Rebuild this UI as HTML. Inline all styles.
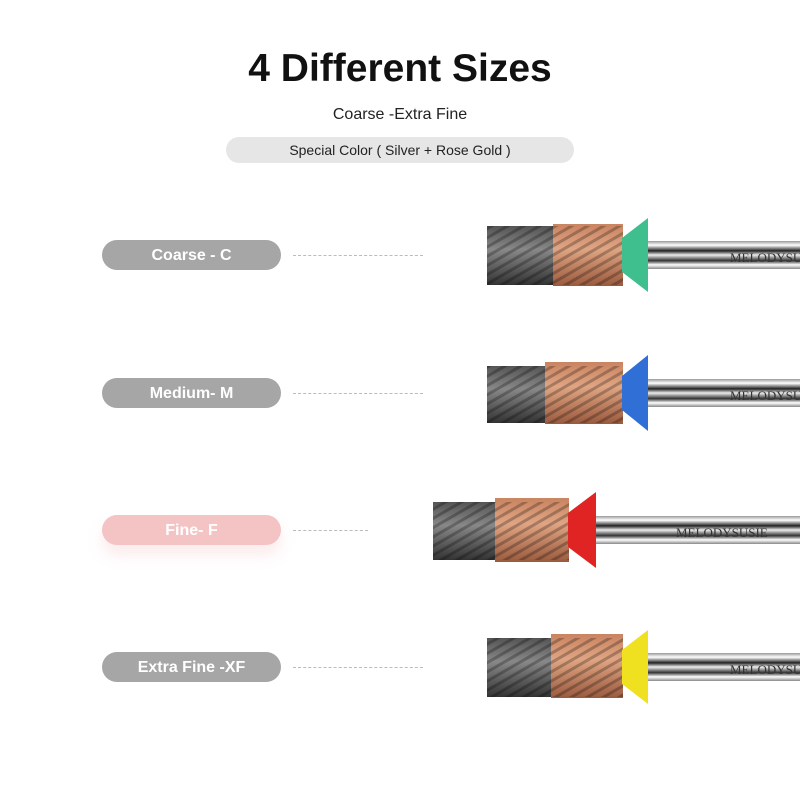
<!DOCTYPE html>
<html><head><style>
body{margin:0;width:800px;height:800px;background:#fff;font-family:"Liberation Sans",sans-serif;position:relative;overflow:hidden}
.t{position:absolute;left:0;width:800px;text-align:center}
.pill{position:absolute;left:102px;width:179px;height:30px;border-radius:15px;background:#a6a6a6;color:#fff;font-weight:bold;font-size:16px;line-height:32px;text-align:center}
.dash{position:absolute;height:0;border-top:1px dashed #bbb}
</style></head><body>
<div class="t" style="top:47px;font-size:39px;font-weight:bold;color:#111">4 Different Sizes</div>
<div class="t" style="top:106px;font-size:16px;color:#222">Coarse -Extra Fine</div>
<div style="position:absolute;left:226px;top:137px;width:348px;height:26px;border-radius:13px;background:#e6e6e6;text-align:center;line-height:26px;font-size:14px;color:#222">Special Color ( Silver + Rose Gold )</div>

<div class="pill" style="top:240px">Coarse - C</div>
<div class="pill" style="top:378px">Medium- M</div>
<div class="pill" style="top:515px;background:#f4c4c5;box-shadow:0 10px 14px rgba(240,180,180,.25)">Fine- F</div>
<div class="pill" style="top:652px">Extra Fine -XF</div>
<div class="dash" style="left:293px;width:130px;top:255px"></div>
<div class="dash" style="left:293px;width:130px;top:393px"></div>
<div class="dash" style="left:293px;width:75px;top:530px"></div>
<div class="dash" style="left:293px;width:130px;top:667px"></div>

<svg width="800" height="800" style="position:absolute;left:0;top:0">
<defs>
<linearGradient id="sh" x1="0" y1="0" x2="0" y2="1">
<stop offset="0" stop-color="#999"/><stop offset=".15" stop-color="#fff"/><stop offset=".35" stop-color="#222"/><stop offset=".5" stop-color="#eee"/><stop offset=".7" stop-color="#333"/><stop offset=".85" stop-color="#fff"/><stop offset="1" stop-color="#888"/></linearGradient>
<linearGradient id="dk" x1="0" y1="0" x2="0" y2="1"><stop offset="0" stop-color="#555"/><stop offset=".4" stop-color="#888"/><stop offset="1" stop-color="#333"/></linearGradient>
<linearGradient id="cu" x1="0" y1="0" x2="0" y2="1"><stop offset="0" stop-color="#c98461"/><stop offset=".4" stop-color="#e0a583"/><stop offset="1" stop-color="#9a5a3e"/></linearGradient>
<pattern id="st" width="8" height="8" patternUnits="userSpaceOnUse" patternTransform="rotate(-30)"><rect width="8" height="3" fill="rgba(0,0,0,.25)"/></pattern>
</defs>
<g>
<rect x="648" y="241" width="152" height="28" fill="url(#sh)"/>
<rect x="487" y="226" width="66" height="59" fill="url(#dk)"/>
<rect x="553" y="224" width="70" height="62" fill="url(#cu)"/>
<rect x="487" y="226" width="136" height="59" fill="url(#st)"/>
<polygon points="622,238 648,218 648,292 622,272" fill="#3fbf8e"/>
<text x="730" y="262" font-family="Liberation Serif" font-size="13" fill="#333">MELODYSUSIE</text>
</g>
<g>
<rect x="648" y="379" width="152" height="28" fill="url(#sh)"/>
<rect x="487" y="366" width="58" height="57" fill="url(#dk)"/>
<rect x="545" y="362" width="78" height="62" fill="url(#cu)"/>
<rect x="487" y="366" width="136" height="57" fill="url(#st)"/>
<polygon points="622,376 648,355 648,431 622,410" fill="#2f6fd6"/>
<text x="730" y="400" font-family="Liberation Serif" font-size="13" fill="#333">MELODYSUSIE</text>
</g>
<g>
<rect x="594" y="516" width="206" height="28" fill="url(#sh)"/>
<rect x="433" y="502" width="62" height="58" fill="url(#dk)"/>
<rect x="495" y="498" width="74" height="64" fill="url(#cu)"/>
<rect x="433" y="502" width="136" height="58" fill="url(#st)"/>
<polygon points="568,513 596,492 596,568 568,547" fill="#e02424"/>
<text x="676" y="537" font-family="Liberation Serif" font-size="13" fill="#333">MELODYSUSIE</text>
</g>
<g>
<rect x="648" y="653" width="152" height="28" fill="url(#sh)"/>
<rect x="487" y="638" width="64" height="59" fill="url(#dk)"/>
<rect x="551" y="634" width="72" height="64" fill="url(#cu)"/>
<rect x="487" y="638" width="136" height="59" fill="url(#st)"/>
<polygon points="622,650 648,630 648,704 622,684" fill="#efe020"/>
<text x="730" y="674" font-family="Liberation Serif" font-size="13" fill="#333">MELODYSUSIE</text>
</g>
</svg>
</body></html>
